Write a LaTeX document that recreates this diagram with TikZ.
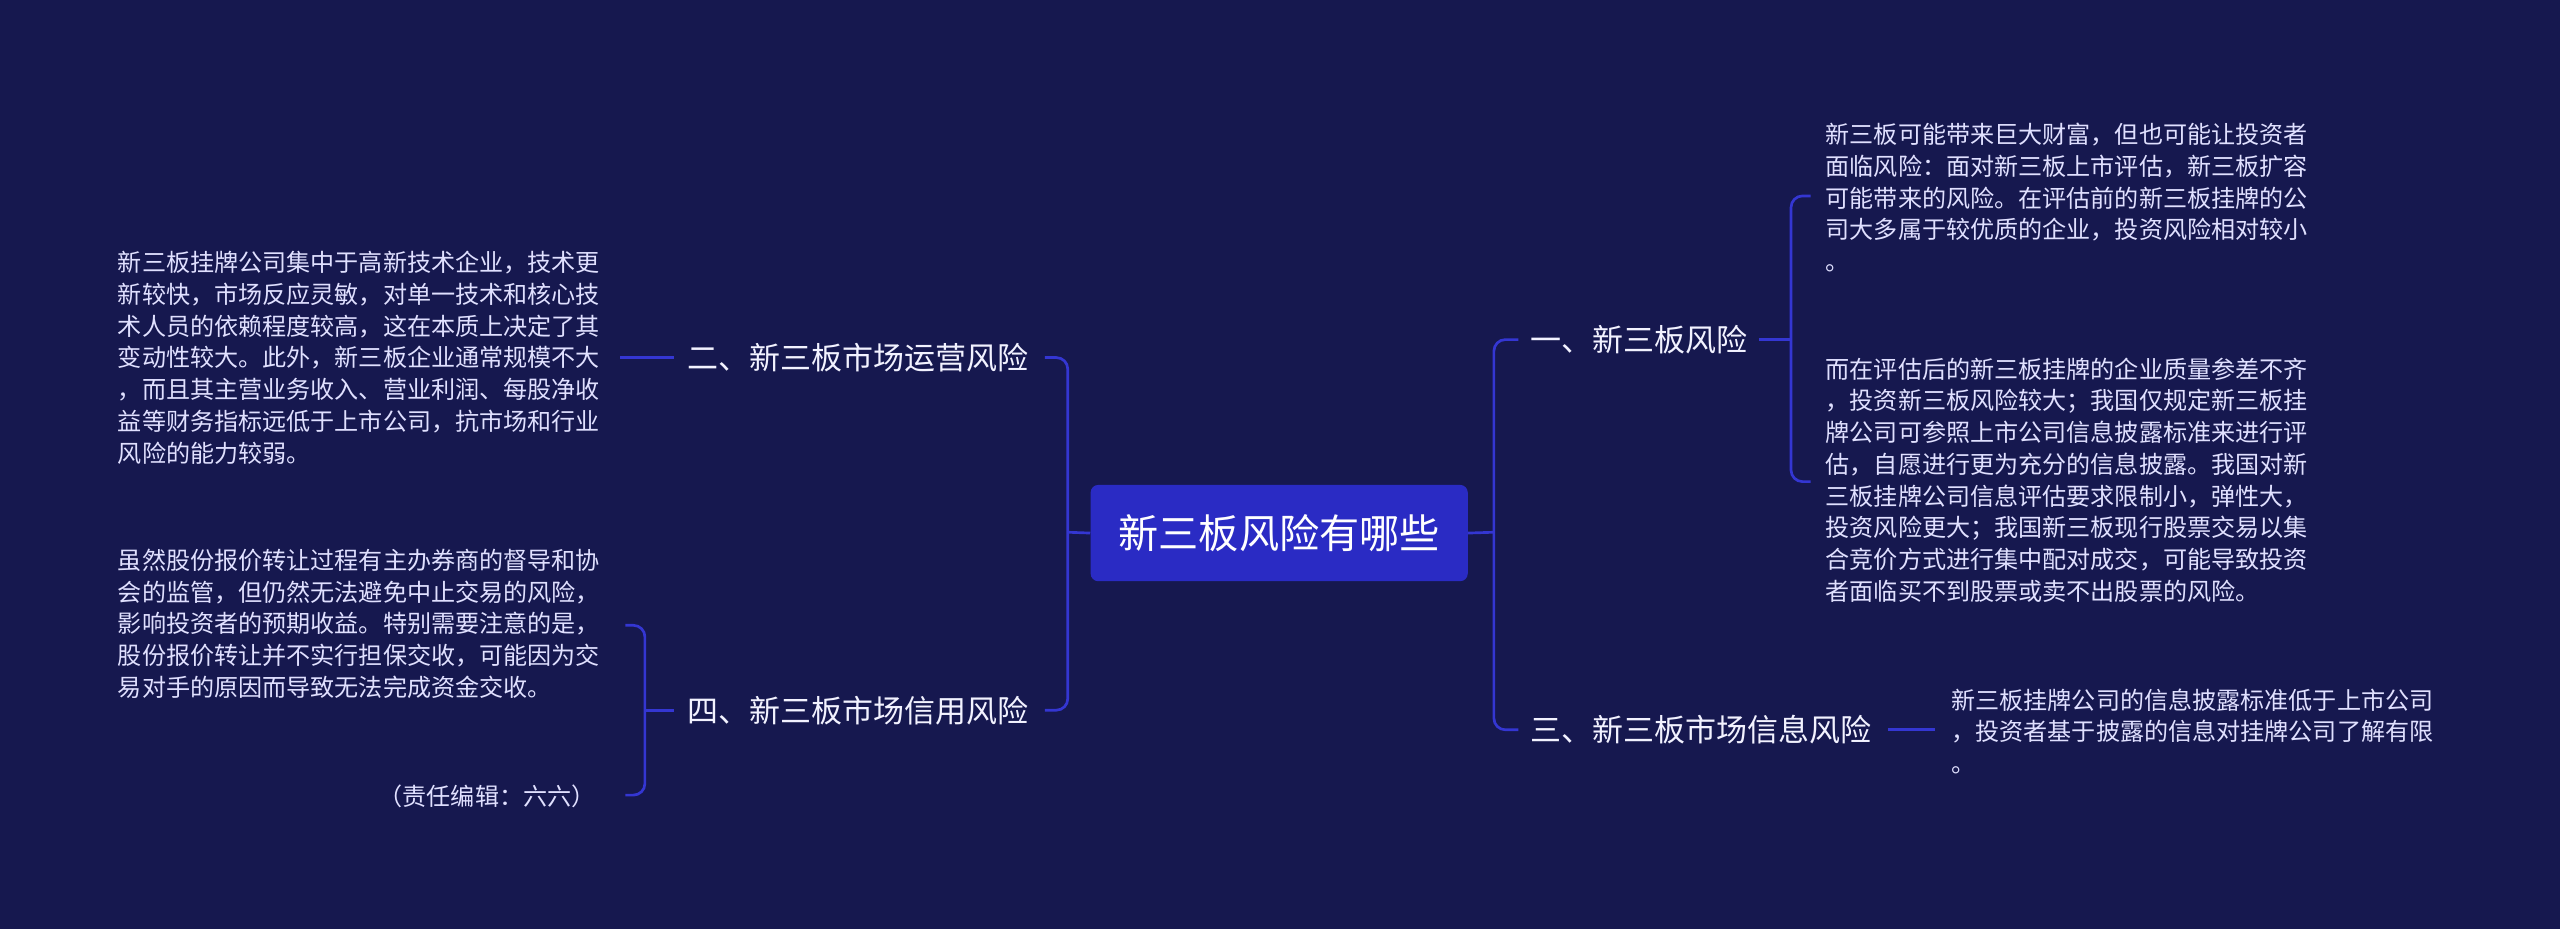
\documentclass[tikz,border=0pt]{standalone}
\usepackage{fontspec}
\setmainfont{Noto Sans CJK SC}
\begin{document}
\begin{tikzpicture}[x=0.03cm,y=-0.03cm,
  leaf/.style={inner sep=0pt,align=left,text=white!88!blue,font=\fontsize{12.6pt}{16.6pt}\selectfont},
  branch/.style={inner sep=0pt,text=white!95!blue,font=\fontsize{16.2pt}{19pt}\selectfont},
  conn/.style={draw=linec,line width=1.4pt,rounded corners=6pt}]
\definecolor{bg}{HTML}{16184F}
\definecolor{linec}{HTML}{3436D2}
\definecolor{centerc}{HTML}{2A2BC4}
\fill[bg] (0,0) rectangle (1568,569);
\useasboundingbox (0,0) rectangle (1568,569);
\node[fill=centerc,rounded corners=4pt,minimum width=231*0.03cm,minimum height=59*0.03cm,text=white,font=\fontsize{21pt}{24pt}\selectfont,inner sep=0pt] (c) at (783.5,326.5) {新三板风险有哪些};
\node[branch,anchor=west] (b1) at (937,208) {一、新三板风险};
\node[branch,anchor=west] (b3) at (937,447) {三、新三板市场信息风险};
\node[branch,anchor=east] (b2) at (630,219) {二、新三板市场运营风险};
\node[branch,anchor=east] (b4) at (630,435) {四、新三板市场信用风险};
\node[leaf,anchor=west] (l1) at (1118,121) {新三板可能带来巨大财富，但也可能让投资者\\面临风险：面对新三板上市评估，新三板扩容\\可能带来的风险。在评估前的新三板挂牌的公\\司大多属于较优质的企业，投资风险相对较小\\。};
\node[leaf,anchor=west] (l2) at (1118,294) {而在评估后的新三板挂牌的企业质量参差不齐\\，投资新三板风险较大；我国仅规定新三板挂\\牌公司可参照上市公司信息披露标准来进行评\\估，自愿进行更为充分的信息披露。我国对新\\三板挂牌公司信息评估要求限制小，弹性大，\\投资风险更大；我国新三板现行股票交易以集\\合竞价方式进行集中配对成交，可能导致投资\\者面临买不到股票或卖不出股票的风险。};
\node[leaf,anchor=west] (l3) at (1195,448) {新三板挂牌公司的信息披露标准低于上市公司\\，投资者基于披露的信息对挂牌公司了解有限\\。};
\node[leaf,anchor=west] (la) at (72,219) {新三板挂牌公司集中于高新技术企业，技术更\\新较快，市场反应灵敏，对单一技术和核心技\\术人员的依赖程度较高，这在本质上决定了其\\变动性较大。此外，新三板企业通常规模不大\\，而且其主营业务收入、营业利润、每股净收\\益等财务指标远低于上市公司，抗市场和行业\\风险的能力较弱。};
\node[leaf,anchor=west] (lb) at (72,382) {虽然股份报价转让过程有主办券商的督导和协\\会的监管，但仍然无法避免中止交易的风险，\\影响投资者的预期收益。特别需要注意的是，\\股份报价转让并不实行担保交收，可能因为交\\易对手的原因而导致无法完成资金交收。};
\node[leaf,anchor=east] (le) at (365,488) {（责任编辑：六六）};
% center to right branches
\draw[conn] (c.east) -- (915,326);
\draw[conn] ([xshift=-7*0.03cm]b1.west) -- (915,208) -- (915,447) -- ([xshift=-7*0.03cm]b3.west);
% center to left branches
\draw[conn] (c.west) -- (654,326);
\draw[conn] ([xshift=10*0.03cm]b2.east) -- (654,219) -- (654,435) -- ([xshift=10*0.03cm]b4.east);
% right leaves
\draw[conn] ([xshift=7*0.03cm]b1.east) -- (1097,208);
\draw[conn] (1109,120) -- (1097,120) -- (1097,295) -- (1109,295);
\draw[conn] ([xshift=10*0.03cm]b3.east) -- (1185,447);
% left leaves
\draw[conn] ([xshift=-8*0.03cm]b2.west) -- (380,219);
\draw[conn] ([xshift=-8*0.03cm]b4.west) -- (395,435);
\draw[conn] (383,383) -- (395,383) -- (395,487) -- (383,487);
\end{tikzpicture}
\end{document}
